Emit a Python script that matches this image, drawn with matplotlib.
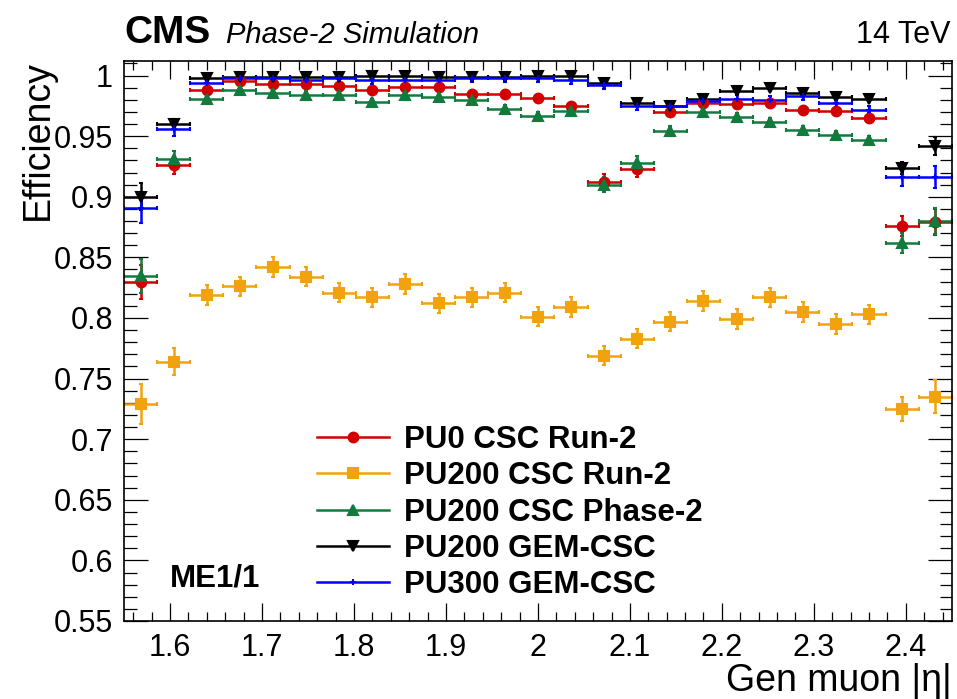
import matplotlib
matplotlib.use("Agg")
import matplotlib.pyplot as plt
from matplotlib.lines import Line2D
from matplotlib.ticker import MultipleLocator, FixedLocator
import numpy as np

plt.rcParams['font.family'] = ['Liberation Sans', 'DejaVu Sans']

# |eta| binning of the ME1/1 station
eta_lo = 1.55
eta_hi = 2.45
n_bins = 25

# efficiency per bin and its statistical uncertainty
eff_pu0_run2 = [0.830, 0.926, 0.988, 0.9956, 0.993, 0.993, 0.9915, 0.9877, 0.9904, 0.9904,
                0.985, 0.985, 0.9814, 0.9746, 0.9126, 0.9227, 0.9697, 0.977, 0.9768, 0.977,
                0.9719, 0.9705, 0.965, 0.876, 0.879]
err_pu0_run2 = [0.014, 0.007, 0.003, 0.003, 0.003, 0.003, 0.003, 0.003, 0.003, 0.003,
                0.003, 0.003, 0.003, 0.003, 0.006, 0.006, 0.003, 0.003, 0.003, 0.003,
                0.003, 0.003, 0.003, 0.008, 0.0105]

eff_pu200_run2 = [0.729, 0.764, 0.819, 0.826, 0.842, 0.834, 0.821, 0.817, 0.828, 0.812,
                  0.817, 0.821, 0.801, 0.809, 0.769, 0.783, 0.797, 0.814, 0.799, 0.817,
                  0.805, 0.795, 0.803, 0.725, 0.735]
err_pu200_run2 = [0.0165, 0.011, 0.008, 0.008, 0.008, 0.008, 0.008, 0.008, 0.008, 0.008,
                  0.008, 0.008, 0.008, 0.008, 0.008, 0.008, 0.008, 0.008, 0.008, 0.008,
                  0.008, 0.008, 0.008, 0.010, 0.0135]

eff_pu200_ph2 = [0.835, 0.931, 0.981, 0.988, 0.986, 0.984, 0.984, 0.978, 0.984, 0.982,
                 0.9795, 0.9727, 0.967, 0.971, 0.910, 0.928, 0.954, 0.970, 0.966, 0.962,
                 0.955, 0.951, 0.947, 0.862, 0.880]
err_pu200_ph2 = [0.014, 0.007, 0.003, 0.003, 0.003, 0.003, 0.003, 0.003, 0.003, 0.003,
                 0.003, 0.003, 0.003, 0.003, 0.006, 0.006, 0.004, 0.003, 0.003, 0.003,
                 0.003, 0.003, 0.003, 0.008, 0.0105]

eff_pu200_gem = [0.900, 0.960, 0.998, 0.999, 0.999, 0.999, 0.999, 0.9995, 0.9995, 0.999,
                 0.999, 0.999, 0.9995, 0.9995, 0.994, 0.977, 0.975, 0.981, 0.987, 0.990,
                 0.986, 0.982, 0.981, 0.924, 0.942]
err_pu200_gem = [0.011, 0.004, 0.002, 0.002, 0.002, 0.002, 0.002, 0.002, 0.002, 0.002,
                 0.002, 0.002, 0.002, 0.002, 0.002, 0.002, 0.002, 0.002, 0.002, 0.002,
                 0.002, 0.002, 0.002, 0.005, 0.0075]

eff_pu300_gem = [0.891, 0.956, 0.994, 0.998, 0.998, 0.996, 0.998, 0.996, 0.996, 0.996,
                 0.998, 0.998, 0.998, 0.996, 0.992, 0.975, 0.975, 0.979, 0.981, 0.980,
                 0.983, 0.977, 0.972, 0.916, 0.916]
err_pu300_gem = [0.0125, 0.006, 0.003, 0.003, 0.003, 0.003, 0.003, 0.003, 0.003, 0.003,
                 0.003, 0.003, 0.003, 0.003, 0.003, 0.003, 0.003, 0.003, 0.003, 0.003,
                 0.003, 0.003, 0.003, 0.007, 0.009]

labels = ['PU0 CSC Run-2', 'PU200 CSC Run-2', 'PU200 CSC Phase-2',
          'PU200 GEM-CSC', 'PU300 GEM-CSC']
colors = ['#d20000', '#f2a20c', '#137a3e', '#000000', '#0000ff']
markers = ['o', 's', '^', 'v', '+']
msizes = [7.0, 6.5, 7.0, 6.5, 5.0]

edges = np.linspace(eta_lo, eta_hi, n_bins + 1)
centers = 0.5 * (edges[:-1] + edges[1:])
half_w = 0.5 * (edges[1] - edges[0])

series = [(eff_pu0_run2, err_pu0_run2), (eff_pu200_run2, err_pu200_run2),
          (eff_pu200_ph2, err_pu200_ph2), (eff_pu200_gem, err_pu200_gem),
          (eff_pu300_gem, err_pu300_gem)]

fig = plt.figure(figsize=(9.57, 6.99), dpi=100)
ax = fig.add_axes([0.1296, 0.1116, 0.865, 0.8011])

handles = []
for (eff, err), lab, c, m, ms in zip(series, labels, colors, markers, msizes):
    ax.errorbar(centers, eff, xerr=half_w, yerr=err, fmt=m, color=c, ms=ms,
                mew=1.5, elinewidth=1.8, capsize=1.6, capthick=1.6, ls='none')
    handles.append(Line2D([], [], color=c, marker=m, ms=ms, mew=1.5, lw=1.8))

ax.set_xlim(eta_lo, eta_hi)
ax.set_ylim(0.55, 1.012)

ax.xaxis.set_major_locator(FixedLocator([1.6, 1.7, 1.8, 1.9, 2.0, 2.1, 2.2, 2.3, 2.4]))
ax.xaxis.set_minor_locator(MultipleLocator(0.02))
ax.yaxis.set_major_locator(MultipleLocator(0.05))
ax.yaxis.set_minor_locator(MultipleLocator(0.01))
ax.set_xticklabels(['1.6', '1.7', '1.8', '1.9', '2', '2.1', '2.2', '2.3', '2.4'])
ax.set_yticks([0.55, 0.6, 0.65, 0.7, 0.75, 0.8, 0.85, 0.9, 0.95, 1.0])
ax.set_yticklabels(['0.55', '0.6', '0.65', '0.7', '0.75', '0.8', '0.85', '0.9', '0.95', '1'])

ax.tick_params(axis='both', which='both', direction='in', top=True, right=True,
               width=0.9, labelsize=22)
ax.tick_params(axis='y', which='major', length=17, pad=8)
ax.tick_params(axis='y', which='minor', length=9)
ax.tick_params(axis='x', which='major', length=13, pad=9)
ax.tick_params(axis='x', which='minor', length=6.5)
for sp in ax.spines.values():
    sp.set_linewidth(1.2)

leg = ax.legend(handles, labels, loc='upper left', bbox_to_anchor=(0.233, 0.35),
                frameon=False, prop={'weight': 'bold', 'size': 22.5},
                handlelength=2.3, handletextpad=0.5, labelspacing=0.2,
                borderpad=0, borderaxespad=0)

ax.text(0.055, 0.075, 'ME1/1', transform=ax.transAxes, fontsize=22.5,
        fontweight='bold', va='center', ha='left')

fig.text(0.1296, 0.938, 'CMS', fontsize=28, fontweight='bold', ha='left', va='baseline')
fig.text(0.236, 0.938, 'Phase-2 Simulation', fontsize=21, style='italic',
         ha='left', va='baseline')
fig.text(0.993, 0.938, '14 TeV', fontsize=22, ha='right', va='baseline')

fig.text(0.04, 0.914, 'Efficiency', rotation=90, fontsize=27, ha='center', va='top')
fig.text(0.995, 0.0, 'Gen muon |η|', fontsize=27, ha='right', va='bottom')

fig.savefig('out.png', dpi=100)
